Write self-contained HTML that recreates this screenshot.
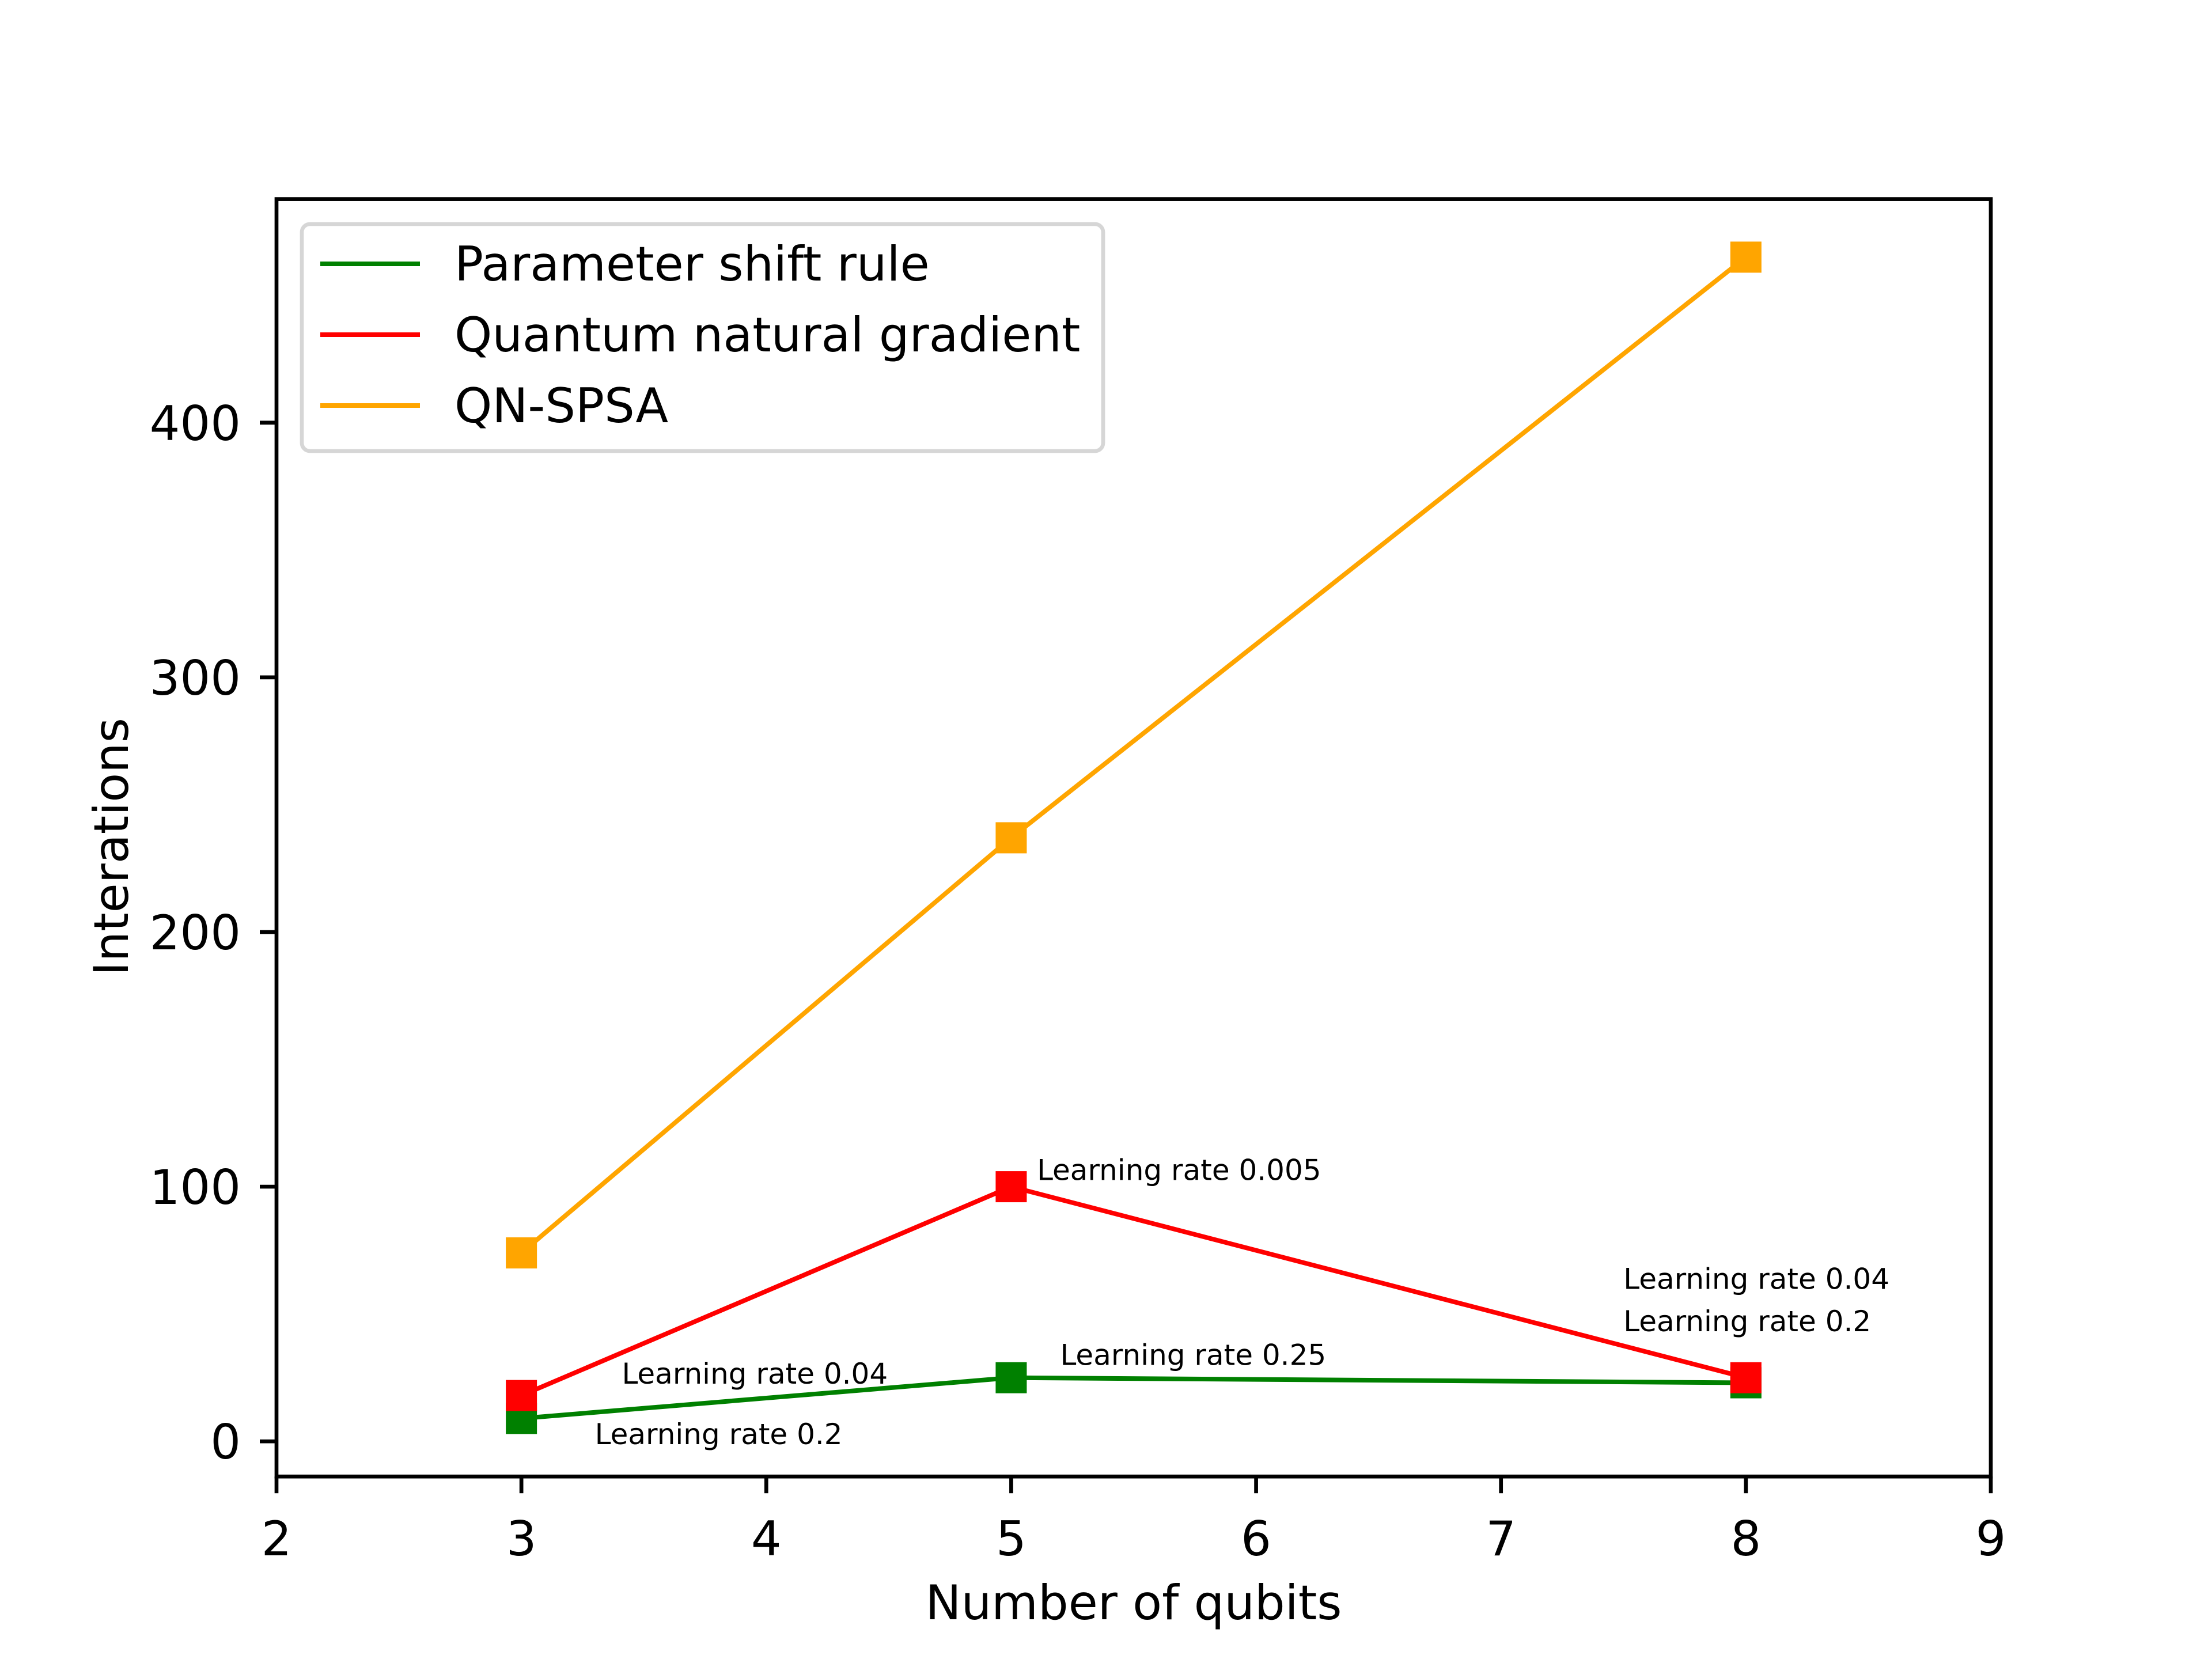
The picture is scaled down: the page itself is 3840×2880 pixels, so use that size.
<!DOCTYPE html>
<html><head><meta charset="utf-8"><style>
html,body{margin:0;padding:0;background:#fff;}
svg{display:block;font-family:"DejaVu Sans","Liberation Sans",sans-serif;}
</style></head><body>
<svg id="chart" width="3840" height="2880" viewBox="0 0 3840 2880">
<rect width="3840" height="2880" fill="#fff"/>
<g id="plot"></g>
</svg>
<script>
const xCats = [3, 5, 8];
const greenVals = [9, 25, 23];
const redVals = [18, 100, 25];
const orangeVals = [74, 237, 465];
const seriesNames = ["Parameter shift rule", "Quantum natural gradient", "QN-SPSA"];
const xTicks = [2, 3, 4, 5, 6, 7, 8, 9];
const yTicks = [0, 100, 200, 300, 400];
const annTexts = ["Learning rate 0.005", "Learning rate 0.04", "Learning rate 0.2", "Learning rate 0.25", "Learning rate 0.04", "Learning rate 0.2"];
const annX = [5.105, 7.5, 7.5, 5.2, 3.41, 3.3];
const annY = [102.6, 59.9, 43.3, 30.0, 22.7, -1.1];

const L=480,R=3456,T=345.6,B=2563.2;
const xMin=2,xMax=9,yMin=-13.8,yMax=487.8;
const sx=v=>L+(v-xMin)/(xMax-xMin)*(R-L);
const sy=v=>B-(v-yMin)/(yMax-yMin)*(B-T);
const NS="http://www.w3.org/2000/svg";
const g=document.getElementById('plot');
function mk(tag,attrs,parent){const e=document.createElementNS(NS,tag);for(const k in attrs)e.setAttribute(k,attrs[k]);(parent||g).appendChild(e);return e;}

const colors=["green","red","orange"];
const data=[greenVals,redVals,orangeVals];
const keys=["parameter-shift","qng","qn-spsa"];
data.forEach((vals,si)=>{
  const pts=xCats.map((x,i)=>sx(x)+","+sy(vals[i])).join(" ");
  const line=mk('polyline',{points:pts,fill:"none",stroke:colors[si],"stroke-width":8,"stroke-linejoin":"round"});
  
  
  xCats.forEach((x,i)=>{
    const m=mk('rect',{x:sx(x)-27,y:sy(vals[i])-27,width:54,height:54,fill:colors[si]});
    
    
  });
});

annTexts.forEach((t,i)=>{
  const e=mk('text',{x:sx(annX[i]),y:sy(annY[i]),"font-size":50,fill:"#000"});
  e.textContent=t;
  
  
});

const frame=mk('rect',{x:L,y:T,width:R-L,height:B-T,fill:"none",stroke:"#000","stroke-width":6.7});



xTicks.forEach(v=>{
  const tk=mk('line',{x1:sx(v),x2:sx(v),y1:B,y2:B+29,stroke:"#000","stroke-width":6.7});
  
  
  const t=mk('text',{x:sx(v),y:2700,"font-size":83,"text-anchor":"middle"});
  t.textContent=v;
  
  
});
yTicks.forEach(v=>{
  const tk=mk('line',{x1:L-29,x2:L,y1:sy(v),y2:sy(v),stroke:"#000","stroke-width":6.7});
  
  
  const t=mk('text',{x:418,y:sy(v)+30,"font-size":83,"text-anchor":"end"});
  t.textContent=v;
  
  
});

const xl=mk('text',{x:1968,y:2811,"font-size":83,"text-anchor":"middle"});
xl.textContent="Number of qubits";


const yl=mk('text',{x:0,y:0,"font-size":83,"text-anchor":"middle",transform:"translate(222,1470) rotate(-90)"});
yl.textContent="Interations";



const lg=mk('g',{});


const box=mk('rect',{x:524,y:389,width:1391,height:394,rx:14,fill:"#fff","fill-opacity":0.8,stroke:"#d6d6d6","stroke-width":6.7},lg);


seriesNames.forEach((n,i)=>{
  const y=458+i*123;
  const ln=mk('line',{x1:556,x2:729,y1:y,y2:y,stroke:colors[i],"stroke-width":8},lg);
  
  
  const t=mk('text',{x:789,y:y+29,"font-size":83},lg);
  t.textContent=n;
  
  
});
</script>
</body></html>
